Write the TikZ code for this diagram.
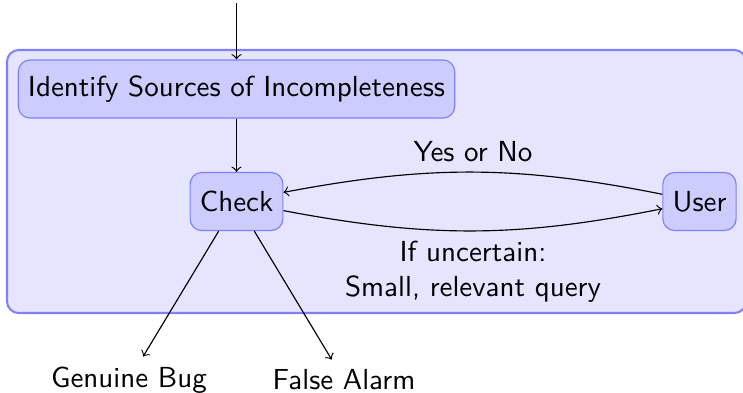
\documentclass[tikz,border=0pt]{standalone}
\begin{document}
\begin{tikzpicture}[x=0.3448pt,y=-0.3448pt,
  every node/.style={font=\sffamily},
  stepbox/.style={draw=blue!50,fill=blue!20,rounded corners=4pt,minimum height=20pt},
  outerbox/.style={draw=blue!50,fill=blue!10,rounded corners=4pt,line width=0.7pt},
  plain/.style={inner sep=3.33pt},
  arr/.style={->}]
\useasboundingbox (0,0) rectangle (743,392);
\draw[outerbox] (7,50) rectangle (746,313);
\node[stepbox] (ident) at (236.5,89) {Identify Sources of Incompleteness};
\node[stepbox] (check) at (236.5,201.5) {Check};
\node[stepbox] (user) at (699.5,201.5) {User};
\node[plain] (gb) at (129,380) {Genuine Bug};
\node[plain] (fa) at (344,380) {False Alarm};
\coordinate (in) at (236.5,3);
\draw[arr] (in) -- (ident);
\draw[arr] (ident) -- (check);
\draw[arr] (user) to[bend right=11] node[above] {Yes or No} (check);
\draw[arr] (check) to[bend right=11] node[below,align=center] {If uncertain:\\Small, relevant query} (user);
\draw[arr] (check) -- (gb);
\draw[arr] (check) -- (fa);
\end{tikzpicture}
\end{document}
